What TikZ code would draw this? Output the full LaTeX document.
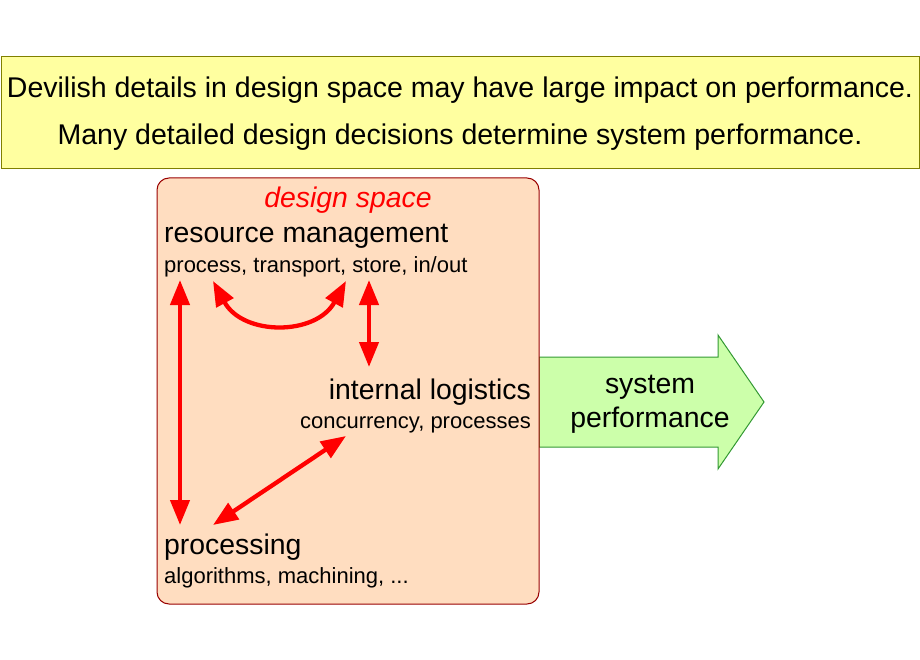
\documentclass[tikz,border=0pt]{standalone}
\usepackage{fontspec}
\setmainfont{Liberation Sans}
\usetikzlibrary{arrows.meta}
\definecolor{hdrfill}{RGB}{255,255,160}
\definecolor{hdrline}{RGB}{128,128,0}
\definecolor{dsfill}{RGB}{255,221,192}
\definecolor{dsline}{RGB}{153,0,0}
\definecolor{grfill}{RGB}{204,255,170}
\definecolor{grline}{RGB}{51,153,51}
\definecolor{arred}{RGB}{255,0,0}
\newcommand{\bigsz}{\fontsize{28.4}{32}\selectfont}
\newcommand{\hdrsz}{\fontsize{28.5}{32}\selectfont}
\newcommand{\smallsz}{\fontsize{22}{26}\selectfont}
\tikzset{
  big/.style={inner sep=0pt, font=\bigsz},
  hdr/.style={inner sep=0pt, font=\hdrsz},
  small/.style={inner sep=0pt, font=\smallsz},
  relarrow/.style={draw=arred, line width=4.3pt,
    {Triangle[length=25pt,width=19pt]}-{Triangle[length=25pt,width=19pt]}},
}
\begin{document}
\begin{tikzpicture}[x=1pt,y=-1pt]
\useasboundingbox (0,0) rectangle (920,660);
% header
\draw[fill=hdrfill, draw=hdrline, line width=1pt] (1,57) rectangle (919,169);
\node[hdr, anchor=base] (h1) at (460,98) {Devilish details in design space may have large impact on performance.};
\node[hdr, anchor=base] (h2) at (460,145) {Many detailed design decisions determine system performance.};
% green arrow
\draw[fill=grfill, draw=grline, line width=1pt]
  (539,357) -- (718,357) -- (718,335) -- (764,402) -- (718,469) -- (718,447) -- (539,447) -- cycle;
\node[big, anchor=base] (sp1) at (650,393) {system};
\node[big, anchor=base] (sp2) at (650,427) {performance};
% design space box
\draw[fill=dsfill, draw=dsline, line width=1pt, rounded corners=12pt] (157,178) rectangle (539,604);
\node[big, anchor=base, text=arred, font=\bigsz\itshape] (ds) at (348,208) {design space};
\node[big, anchor=base west] (rm) at (164,243) {resource management};
\node[small, anchor=base west] (rms) at (164,272) {process, transport, store, in/out};
\node[big, anchor=base east] (il) at (531,399) {internal logistics};
\node[small, anchor=base east] (ils) at (531,428) {concurrency, processes};
\node[big, anchor=base west] (pr) at (164,554) {processing};
\node[small, anchor=base west] (prs) at (164,583) {algorithms, machining, ...};
% arrow endpoints
\coordinate (rmA) at (180,280);
\coordinate (prA) at (180,525);
\coordinate (rmB) at (213,281);
\coordinate (rmC) at (346,281);
\coordinate (rmD) at (369,280);
\coordinate (ilA) at (369,367);
\coordinate (ilB) at (346,436);
\coordinate (prB) at (213,525);
\draw[relarrow] (rmA) -- (prA);
\draw[relarrow] (rmB) .. controls (243,336) and (316,336) .. (rmC);
\draw[relarrow] (rmD) -- (ilA);
\draw[relarrow] (ilB) -- (prB);
\end{tikzpicture}
\end{document}
